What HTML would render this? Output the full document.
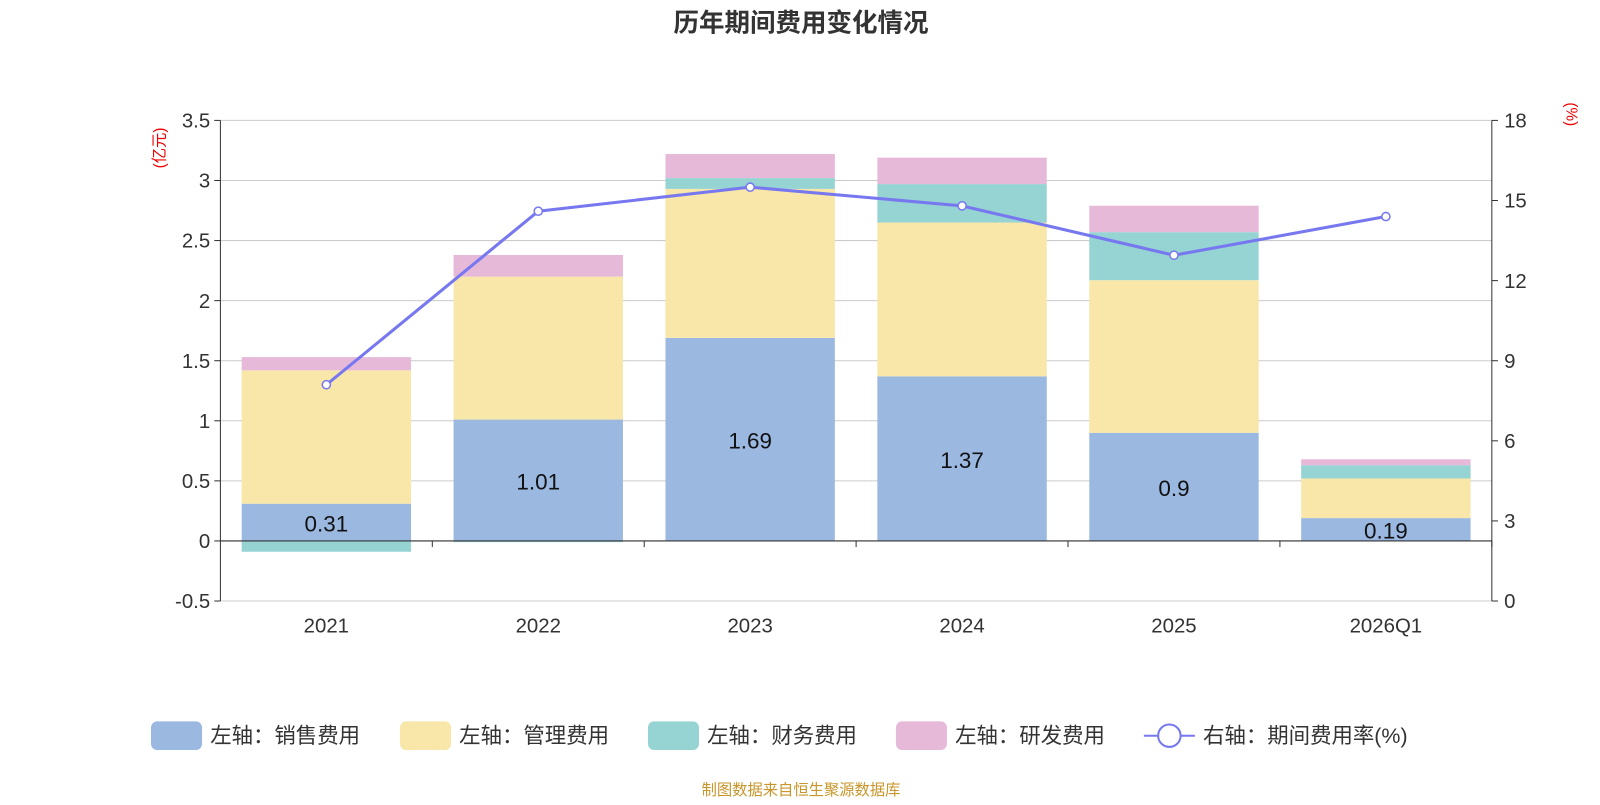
<!DOCTYPE html>
<html><head><meta charset="utf-8"><style>
body{margin:0;background:#fff;width:1600px;height:800px;overflow:hidden;font-family:"Liberation Sans","Noto Sans CJK SC",sans-serif}
</style></head><body>
<svg width="1600" height="800" xmlns="http://www.w3.org/2000/svg" font-family="Liberation Sans, Noto Sans CJK SC, sans-serif">
<g transform="scale(1.0204)">
<text x="785" y="31" text-anchor="middle" font-size="25" font-weight="bold" fill="#333">历年期间费用变化情况</text>
<text transform="translate(161,145) rotate(-90)" text-anchor="middle" font-size="15" fill="#e00">(亿元)</text>
<text transform="translate(1535,112) rotate(90)" text-anchor="middle" font-size="15" fill="#e00">(%)</text>
<g id="grid"></g><g id="bars"></g><g id="axes"></g><g id="line"></g>
<g id="legend"></g>
<text x="785" y="779" text-anchor="middle" font-size="15" fill="#c8962a">制图数据来自恒生聚源数据库</text>
</g>
</svg>
<script>
const categories=["2021","2022","2023","2024","2025","2026Q1"];
const sales=[0.31,1.01,1.69,1.37,0.9,0.19];
const mgmt=[1.11,1.19,1.24,1.28,1.27,0.33];
const finance=[-0.09,-0.01,0.09,0.32,0.4,0.11];
const rnd=[0.11,0.18,0.2,0.22,0.22,0.05];
const rate=[8.1,14.6,15.5,14.8,12.95,14.4];
const leftTicks=[-0.5,0,0.5,1,1.5,2,2.5,3,3.5];
const rightTicks=[0,3,6,9,12,15,18];
const NS="http://www.w3.org/2000/svg";
const X0=216,X1=1462,YT=118,YB=589;
const yL=v=>YB-(v+0.5)/4*(YB-YT);
const yR=v=>YB-v/18*(YB-YT);
const bw=(X1-X0)/categories.length;
const xC=i=>X0+bw*(i+0.5);
function mk(tag,attrs,parent){const e=document.createElementNS(NS,tag);for(const k in attrs)e.setAttribute(k,attrs[k]);document.getElementById(parent).appendChild(e);return e;}
leftTicks.forEach(t=>{const g=mk('line',{x1:X0,x2:X1,y1:yL(t),y2:yL(t),stroke:'#ccc','stroke-width':1},'grid');

const tx=mk('text',{x:X0-10,y:yL(t)+7,'text-anchor':'end','font-size':20,fill:'#333'},'axes');tx.textContent=t;

mk('line',{x1:X0-6,x2:X0,y1:yL(t),y2:yL(t),stroke:'#333'},'axes');});
rightTicks.forEach(t=>{const tx=mk('text',{x:X1+12,y:yR(t)+7,'font-size':20,fill:'#333'},'axes');tx.textContent=t;

mk('line',{x1:X1,x2:X1+6,y1:yR(t),y2:yR(t),stroke:'#333'},'axes');});
mk('line',{x1:X0,x2:X0,y1:YT,y2:YB,stroke:'#333'},'axes');
mk('line',{x1:X1,x2:X1,y1:YT,y2:YB,stroke:'#333'},'axes');
mk('line',{x1:X0,x2:X1,y1:yL(0),y2:yL(0),stroke:'#333'},'axes');
const colors=["#9bb8e1","#f8e7a8","#96d3d3","#e6b9d9"];
const series=[sales,mgmt,finance,rnd];
categories.forEach((c,i)=>{
 mk('line',{x1:X0+bw*(i+1),x2:X0+bw*(i+1),y1:yL(0),y2:yL(0)+6,stroke:'#333'},'axes');
 const tx=mk('text',{x:xC(i),y:620,'text-anchor':'middle','font-size':20,fill:'#333'},'axes');tx.textContent=c;
 
 let pos=0,neg=0;
 series.forEach((s,k)=>{const v=s[i];let a,b;
  if(v>=0){a=pos;b=pos+v;pos=b;}else{a=neg;b=neg+v;neg=b;}
  const r=mk('rect',{x:xC(i)-83,width:166,y:Math.min(yL(a),yL(b)),height:Math.abs(yL(a)-yL(b)),fill:colors[k]},'bars');
  });
 const lb=mk('text',{x:xC(i),y:(yL(0)+yL(sales[i]))/2+9,'text-anchor':'middle','font-size':22,fill:'#111'},'bars');lb.textContent=sales[i];
 
});
const pl=mk('polyline',{points:rate.map((v,i)=>xC(i)+','+yR(v)).join(' '),fill:'none',stroke:'#7778f0','stroke-width':3},'line');

rate.forEach((v,i)=>{const p=mk('circle',{cx:xC(i),cy:yR(v),r:4,fill:'#fff',stroke:'#7778f0','stroke-width':1.5},'line');
});
const leg=[["左轴：销售费用",148],["左轴：管理费用",392],["左轴：财务费用",635],["左轴：研发费用",878]];
leg.forEach((l,k)=>{const r=mk('rect',{x:l[1],y:707,width:50,height:28,rx:6,fill:colors[k]},'legend');

const t=mk('text',{x:l[1]+58,y:728,'font-size':21,fill:'#333'},'legend');t.textContent=l[0];
});
mk('line',{x1:1121,x2:1171,y1:721,y2:721,stroke:'#7778f0','stroke-width':2},'legend');
const lc=mk('circle',{cx:1146,cy:721,r:11,fill:'#fff',stroke:'#7778f0','stroke-width':2},'legend');

const lt=mk('text',{x:1179,y:728,'font-size':21,fill:'#333'},'legend');lt.textContent="右轴：期间费用率(%)";

</script>
</body></html>
